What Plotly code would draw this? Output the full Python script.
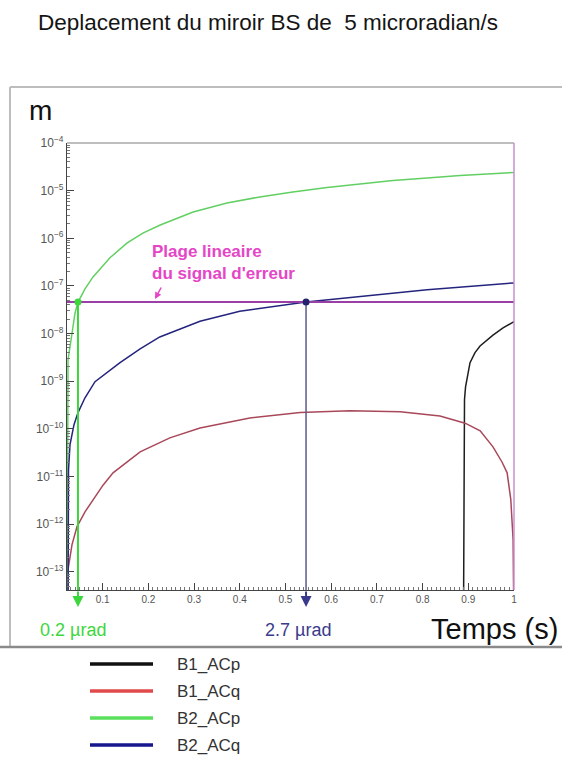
import plotly.graph_objects as go

# ---------------- data ----------------
SERIES = ["B1_ACp", "B1_ACq", "B2_ACp", "B2_ACq"]
CURVE_COLORS = ["#1e1e1e", "#a8485a", "#62cf62", "#24247e"]
LEGEND_COLORS = ["#111111", "#e04a4a", "#5ae05a", "#16168f"]

t_b1_acp = [0.8895, 0.8902, 0.8917, 0.894, 0.8972, 0.9038, 0.9147, 0.9257, 0.954, 0.976, 1.0]
y_b1_acp = [1e-14, 5.9e-11, 4.1e-10, 7.6e-10, 1.07e-9, 2.45e-9, 4.0e-9, 5.5e-9, 9.3e-9, 1.32e-8, 1.78e-8]

t_b1_acq = [0.0227, 0.0242, 0.0329, 0.0439, 0.0614, 0.0789, 0.1008, 0.1227, 0.151, 0.182, 0.247, 0.313,
            0.422, 0.532, 0.641, 0.751, 0.838, 0.893, 0.926, 0.954, 0.974, 0.985, 0.993, 0.998, 0.9997]
y_b1_acq = [1e-14, 1.12e-13, 3.7e-13, 8.9e-13, 1.82e-12, 3.3e-12, 6.6e-12, 1.2e-11, 1.95e-11, 3.3e-11, 6.5e-11,
            1.05e-10, 1.7e-10, 2.2e-10, 2.4e-10, 2.3e-10, 1.86e-10, 1.32e-10, 9.1e-11, 4.2e-11, 2.0e-11,
            1.2e-11, 3.3e-12, 4.8e-13, 1e-14]

t_b2_acp = [0.0224, 0.0231, 0.0242, 0.0329, 0.0395, 0.0462, 0.0614, 0.079, 0.116, 0.153, 0.188, 0.226,
            0.298, 0.372, 0.444, 0.516, 0.591, 0.663, 0.735, 0.810, 0.882, 1.0]
y_b2_acp = [1e-14, 3.6e-11, 2.8e-9, 1.0e-8, 2.7e-8, 4.6e-8, 8.7e-8, 1.55e-7, 3.9e-7, 7.9e-7, 1.29e-6, 1.9e-6,
            3.57e-6, 5.5e-6, 7.4e-6, 9.4e-6, 1.17e-5, 1.38e-5, 1.64e-5, 1.85e-5, 2.08e-5, 2.4e-5]

t_b2_acq = [0.0242, 0.0253, 0.0286, 0.0373, 0.0461, 0.0614, 0.0833, 0.1106, 0.138, 0.182, 0.225, 0.313,
            0.400, 0.545, 0.663, 0.810, 1.0]
y_b2_acq = [1e-14, 1.38e-11, 4.7e-11, 1.23e-10, 2.2e-10, 4.5e-10, 9.8e-10, 1.58e-9, 2.45e-9, 4.8e-9, 8.5e-9,
            1.82e-8, 2.95e-8, 4.6e-8, 5.9e-8, 8.3e-8, 1.16e-7]

LINEAR_RANGE = 4.6e-8          # "Plage lineaire du signal d'erreur"
T_MARKS = [0.046, 0.545]       # crossing times
MARK_LABELS = ["0.2 \u00b5rad", "2.7 \u00b5rad"]
MARK_COLORS = ["#3dd63d", "#3a3a8c"]
MARK_LINE_COLORS = ["#3dd63d", "#5a5a8e"]
MARK_DOT_COLORS = ["#3dd63d", "#22226e"]
MARK_LINE_WIDTHS = [2, 1.5]

X_TICK_VALS = [0.1, 0.2, 0.3, 0.4, 0.5, 0.6, 0.7, 0.8, 0.9, 1.0]
X_TICK_TEXT = ["0.1", "0.2", "0.3", "0.4", "0.5", "0.6", "0.7", "0.8", "0.9", "1"]
Y_TICK_VALS = [1e-13, 1e-12, 1e-11, 1e-10, 1e-9, 1e-8, 1e-7, 1e-6, 1e-5, 1e-4]
Y_TICK_TEXT = ["10<sup>\u221213</sup>", "10<sup>\u221212</sup>", "10<sup>\u221211</sup>",
               "10<sup>\u221210</sup>", "10<sup>\u22129</sup>", "10<sup>\u22128</sup>",
               "10<sup>\u22127</sup>", "10<sup>\u22126</sup>", "10<sup>\u22125</sup>",
               "10<sup>\u22124</sup>"]

TITLE = "Deplacement du miroir BS de  5 microradian/s"

# ---------------- layout geometry ----------------
W, H = 562, 758
L, R, T, B = 67, 514, 143, 590
FONT = "Liberation Sans, Arial, Helvetica, sans-serif"


def px(x):
    return (x - L) / (R - L)


def py(y):
    return (B - y) / (B - T)


fig = go.Figure()

series_t = [t_b1_acp, t_b1_acq, t_b2_acp, t_b2_acq]
series_y = [y_b1_acp, y_b1_acq, y_b2_acp, y_b2_acq]
for name, tt, yy, col in zip(SERIES, series_t, series_y, CURVE_COLORS):
    fig.add_trace(go.Scatter(x=tt, y=yy, mode="lines", name=name,
                             line=dict(color=col, width=1.5), showlegend=False))

# horizontal linear-range line
fig.add_trace(go.Scatter(x=[0.0, 1.0], y=[LINEAR_RANGE, LINEAR_RANGE], mode="lines",
                         line=dict(color="#9a3fa6", width=2), showlegend=False, hoverinfo="skip"))

# vertical marker lines + dots
for t_m, lc, dc, lw in zip(T_MARKS, MARK_LINE_COLORS, MARK_DOT_COLORS, MARK_LINE_WIDTHS):
    fig.add_trace(go.Scatter(x=[t_m, t_m], y=[LINEAR_RANGE, 1e-14], mode="lines",
                             line=dict(color=lc, width=lw), showlegend=False, hoverinfo="skip"))
    fig.add_trace(go.Scatter(x=[t_m], y=[LINEAR_RANGE], mode="markers",
                             marker=dict(color=dc, size=7), showlegend=False, hoverinfo="skip"))

annotations = []
shapes = []

# arrows below axis and labels
for t_m, mc in zip(T_MARKS, MARK_COLORS):
    annotations.append(dict(x=t_m, xref="x", y=py(607), yref="paper", text="", showarrow=True,
                            ax=0, ay=-17, arrowhead=2, arrowsize=1.1, arrowwidth=2,
                            arrowcolor=mc))
label_x = [73, 298]
for lx, lab, mc in zip(label_x, MARK_LABELS, MARK_COLORS):
    annotations.append(dict(x=px(lx), y=py(630), xref="paper", yref="paper", text=lab,
                            showarrow=False, xanchor="center", yanchor="middle",
                            font=dict(family=FONT, size=18, color=mc)))

# annotation text
annotations.append(dict(x=px(150), y=py(262), xref="paper", yref="paper",
                        text="<b>Plage lineaire<br>du signal d'erreur</b>", align="left",
                        showarrow=False, xanchor="left", yanchor="middle",
                        font=dict(family=FONT, size=17, color="#e546c6")))
annotations.append(dict(x=px(155), y=py(299), xref="paper", yref="paper",
                        text="", showarrow=True, ax=7, ay=-13, arrowhead=2, arrowsize=0.9,
                        arrowwidth=1.5, arrowcolor="#e546c6"))

# axis titles
annotations.append(dict(x=px(40), y=py(110), xref="paper", yref="paper", text="m",
                        showarrow=False, xanchor="center", yanchor="middle",
                        font=dict(family=FONT, size=28, color="#111")))
annotations.append(dict(x=px(494), y=py(629), xref="paper", yref="paper", text="Temps (s)",
                        showarrow=False, xanchor="center", yanchor="middle",
                        font=dict(family=FONT, size=29, color="#111")))

# outer frame
shapes.append(dict(type="line", xref="paper", yref="paper", x0=px(10), x1=px(562),
                   y0=py(87), y1=py(87), line=dict(color="#bdbdbd", width=2)))
shapes.append(dict(type="line", xref="paper", yref="paper", x0=px(10), x1=px(10),
                   y0=py(87), y1=py(647), line=dict(color="#bdbdbd", width=2)))
shapes.append(dict(type="line", xref="paper", yref="paper", x0=px(0), x1=px(562),
                   y0=py(647), y1=py(647), line=dict(color="#8a8a8a", width=2.5)))
# plot box top / right
shapes.append(dict(type="line", xref="paper", yref="paper", x0=0, x1=1, y0=1, y1=1,
                   line=dict(color="#a8a8a8", width=1.5)))
shapes.append(dict(type="line", xref="paper", yref="paper", x0=1, x1=1, y0=0, y1=1,
                   line=dict(color="#c78fcf", width=1.5)))

# custom legend
leg_y = [664, 691, 718, 745]
for name, col, ly in zip(SERIES, LEGEND_COLORS, leg_y):
    shapes.append(dict(type="line", xref="paper", yref="paper", x0=px(90), x1=px(153),
                       y0=py(ly), y1=py(ly), line=dict(color=col, width=3.5)))
    annotations.append(dict(x=px(175), y=py(ly), xref="paper", yref="paper", text=name,
                            showarrow=False, xanchor="left", yanchor="middle",
                            font=dict(family=FONT, size=17, color="#333")))

minor_y = [k * 10.0 ** e for e in range(-14, -3) for k in range(2, 10)]

fig.update_layout(
    width=W, height=H,
    margin=dict(l=L, r=W - R, t=T, b=H - B, pad=0),
    paper_bgcolor="white", plot_bgcolor="white",
    title=dict(text=TITLE, x=268 / W, xanchor="center", y=1 - 22 / H, yanchor="middle",
               font=dict(family=FONT, size=22.5, color="#151515")),
    xaxis=dict(range=[0.022, 1.0], tickmode="array", tickvals=X_TICK_VALS, ticktext=X_TICK_TEXT,
               ticks="inside", ticklen=7, tickwidth=1, tickcolor="#444",
               minor=dict(dtick=0.01, ticks="inside", ticklen=3, tickcolor="#777", showgrid=False),
               showgrid=False, zeroline=False, showline=True, linecolor="#444", linewidth=1.2,
               tickfont=dict(family=FONT, size=10, color="#555")),
    yaxis=dict(type="log", range=[-13.38, -4.0], tickmode="array", tickvals=Y_TICK_VALS,
               ticktext=Y_TICK_TEXT, ticks="inside", ticklen=7, tickwidth=1, tickcolor="#444",
               minor=dict(tickmode="array", tickvals=minor_y, ticks="inside", ticklen=3,
                          tickcolor="#777", showgrid=False),
               showgrid=False, zeroline=False, showline=True, linecolor="#444", linewidth=1.2,
               tickfont=dict(family=FONT, size=12, color="#555")),
    annotations=annotations,
    shapes=shapes,
    showlegend=False,
)

fig.write_html("out.html", config={"displayModeBar": False},
               post_script="document.body.style.margin='0';document.body.style.overflow='hidden';")
